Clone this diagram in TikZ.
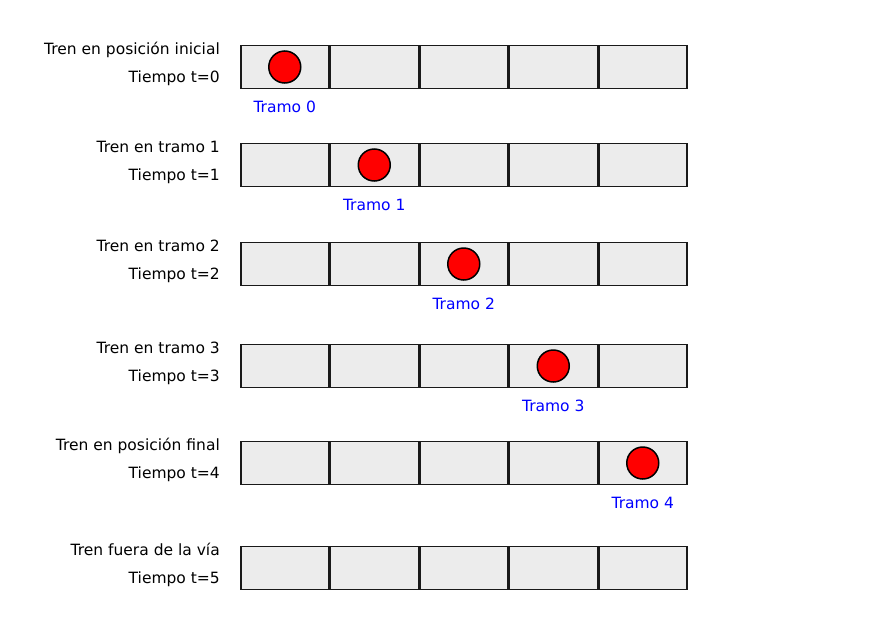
\documentclass[tikz,border=0pt]{standalone}
\usepackage{fontspec}
\setmainfont{DejaVu Sans}
\begin{document}
\begin{tikzpicture}[x=1pt,y=-1pt,
  cell/.style={draw=black!90,fill=gray!15,line width=1.5pt,minimum width=88pt,minimum height=43pt,inner sep=0pt,outer sep=0pt},
  train/.style={circle,draw=black,fill=red,line width=1.5pt,minimum size=32pt,inner sep=0pt},
  lab/.style={anchor=base east,inner sep=0pt,font=\fontsize{15.5}{18}\selectfont,text=black},
  tramo/.style={anchor=base,inner sep=0pt,font=\fontsize{15.5}{18}\selectfont,text=blue}]
\useasboundingbox (0,0) rectangle (893,632);
\foreach \r/\t/\la/\lb/\c in {
  0/45/Tren en posición inicial/Tiempo t=0/0,
  1/143/Tren en tramo 1/Tiempo t=1/1,
  2/242/Tren en tramo 2/Tiempo t=2/2,
  3/344/Tren en tramo 3/Tiempo t=3/3,
  4/441/Tren en posición final/Tiempo t=4/4,
  5/546/Tren fuera de la vía/Tiempo t=5/-1}{
  \foreach \i in {0,...,4}{
    \node[cell] (cell-\r-\i) at ({284.75+89.5*\i},{\t+22}) {};
  }
  \node[lab] (la-\r) at (220,{\t+9.5}) {\la};
  \node[lab] (lb-\r) at (220,{\t+37}) {\lb};
  \ifnum\c>-1
    \node[train] (train-\r) at (cell-\r-\c.center) {};
    \node[tramo] (tramo-\r) at ({284.75+89.5*\c},{\t+44+23}) {Tramo \c};
  \fi
}
\end{tikzpicture}
\end{document}
